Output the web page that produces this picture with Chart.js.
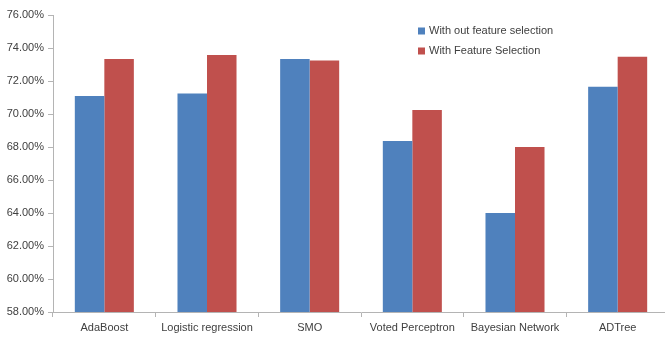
<!DOCTYPE html>
<html>
<head>
<meta charset="utf-8">
<script src="https://cdn.jsdelivr.net/npm/chart.js@4/dist/chart.umd.min.js"></script>
<style>
  html, body { margin: 0; padding: 0; background: #fff; overflow: hidden; }
  #wrap { position: relative; width: 670px; height: 338px; }
</style>
</head>
<body>
<div id="wrap"><canvas id="c"></canvas></div>
<script>
// Classifier accuracy with and without feature selection
const categories = ['AdaBoost', 'Logistic regression', 'SMO', 'Voted Perceptron', 'Bayesian Network', 'ADTree'];
const seriesNames = ['With out feature selection', 'With Feature Selection'];
const withoutFS = [71.09, 71.25, 73.33, 68.36, 64.00, 71.65];
const withFS    = [73.33, 73.58, 73.25, 70.24, 68.00, 73.47];
const yMin = 58, yMax = 76, yStep = 2;

const colors = ['#4F81BD', '#C0504D'];
const font = { family: 'Liberation Sans, Arial, sans-serif', size: 11 };
const textColor = '#404040';
const axisColor = '#B4B4B4';

// Legend drawn inside the plot area, upper middle-right
const insideLegend = {
  id: 'insideLegend',
  afterDraw(chart) {
    const ctx = chart.ctx;
    const x0 = 418, y0 = 31, rowGap = 20, box = 7;
    ctx.save();
    ctx.font = font.size + 'px ' + font.family;
    ctx.textBaseline = 'middle';
    ctx.textAlign = 'left';
    chart.data.datasets.forEach((ds, i) => {
      const y = y0 + i * rowGap;
      ctx.fillStyle = ds.backgroundColor;
      ctx.fillRect(x0, y - box / 2, box, box);
      ctx.fillStyle = textColor;
      ctx.fillText(ds.label, x0 + box + 4, y);
    });
    ctx.restore();
  }
};

new Chart(document.getElementById('c'), {
  type: 'bar',
  data: {
    labels: categories,
    datasets: [
      { label: seriesNames[0], data: withoutFS, backgroundColor: colors[0] },
      { label: seriesNames[1], data: withFS, backgroundColor: colors[1] }
    ]
  },
  options: {
    responsive: true,
    maintainAspectRatio: false,
    animation: false,
    layout: { padding: { top: 15, right: 1, left: 0, bottom: 0 } },
    datasets: { bar: { categoryPercentage: 0.575, barPercentage: 1.0 } },
    plugins: { legend: { display: false }, tooltip: { enabled: false } },
    scales: {
      x: {
        offset: true,
        grid: { offset: true, drawOnChartArea: false, drawTicks: true, tickLength: 5, color: axisColor },
        border: { display: true, color: axisColor, width: 1 },
        ticks: { font: font, color: textColor, padding: 4, maxRotation: 0, autoSkip: false },
        afterFit(scale) { scale.height = 26; }
      },
      y: {
        min: yMin,
        max: yMax,
        grid: { drawOnChartArea: false, drawTicks: true, tickLength: 5, color: axisColor },
        border: { display: true, color: axisColor, width: 1 },
        ticks: {
          stepSize: yStep,
          font: font,
          color: textColor,
          padding: 4,
          callback: v => v.toFixed(2) + '%'
        },
        afterFit(scale) { scale.width = 53; }
      }
    }
  },
  plugins: [insideLegend]
});
</script>
</body>
</html>
